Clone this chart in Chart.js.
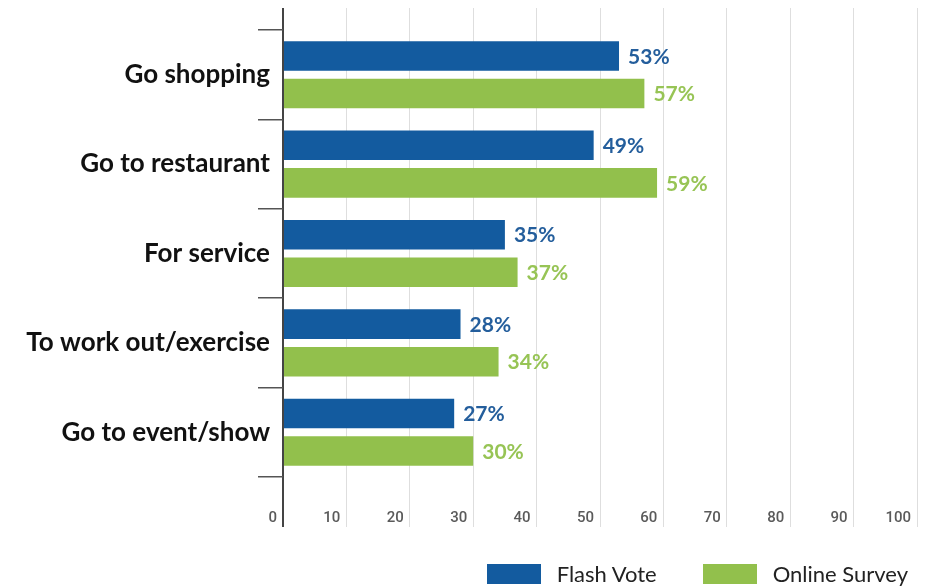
<!DOCTYPE html>
<html>
<head>
<meta charset="utf-8">
<script src="https://cdn.jsdelivr.net/npm/chart.js@4"></script>
<style>
  html, body { margin: 0; padding: 0; background: #fff; }
  .wrap { position: relative; width: 927px; height: 588px; }
  #legend { position: absolute; right: 19px; bottom: 1px; display: flex; align-items: center;
            font-family: Lato, sans-serif; font-size: 22px; color: #222; }
  #legend .item { display: flex; align-items: center; margin-left: 46px; }
  #legend .box { width: 54px; height: 20px; margin-right: 16px; }
</style>
</head>
<body>
<div class="wrap">
  <canvas id="chart" width="927" height="588"></canvas>
  <div id="legend"></div>
</div>
<script>
const categories = ['Go shopping', 'Go to restaurant', 'For service', 'To work out/exercise', 'Go to event/show'];
const flashVote = [53, 49, 35, 28, 27];
const onlineSurvey = [57, 59, 37, 34, 30];
const seriesNames = ['Flash Vote', 'Online Survey'];
const seriesColors = ['#135b9f', '#92c04c'];
const labelColors = ['#245e9c', '#97c455'];

const axisDark = '#444';
const gridLight = '#dedede';

const gridColor = ctx => (ctx.tick && ctx.tick.value === 0 ? axisDark : gridLight);
const gridWidth = ctx => (ctx.tick && ctx.tick.value === 0 ? 2 : 1);

// percent label to the right of each bar
const valueLabels = {
  id: 'valueLabels',
  afterDatasetsDraw(chart) {
    const ctx = chart.ctx;
    ctx.save();
    ctx.font = 'bold 21px Lato';
    ctx.textBaseline = 'middle';
    ctx.textAlign = 'left';
    chart.data.datasets.forEach((ds, i) => {
      chart.getDatasetMeta(i).data.forEach((bar, j) => {
        ctx.fillStyle = labelColors[i];
        ctx.fillText(ds.data[j] + '%', bar.x + 9, bar.y + 1);
      });
    });
    ctx.restore();
  }
};

const chart = new Chart(document.getElementById('chart'), {
  type: 'bar',
  data: {
    labels: categories,
    datasets: [
      { label: seriesNames[0], data: flashVote, backgroundColor: seriesColors[0] },
      { label: seriesNames[1], data: onlineSurvey, backgroundColor: seriesColors[1] }
    ]
  },
  options: {
    indexAxis: 'y',
    responsive: false,
    animation: false,
    categoryPercentage: 0.84,
    barPercentage: 0.787,
    layout: { padding: { top: 8, right: 10, bottom: 61, left: 0 } },
    plugins: {
      legend: { display: false },
      tooltip: { enabled: false }
    },
    scales: {
      x: {
        position: 'bottom',
        min: 0,
        max: 100,
        border: { display: false },
        grid: { color: gridColor, lineWidth: gridWidth, tickLength: 50 },
        ticks: {
          stepSize: 10,
          align: 'end',
          labelOffset: -6,
          padding: -18,
          color: '#5a5a5a',
          font: { family: 'Roboto', size: 15, weight: '500' }
        },
        afterFit: s => { s.height = 50; }
      },
      xTop: {
        type: 'linear',
        position: 'top',
        min: 0,
        max: 100,
        border: { display: false },
        grid: { color: gridColor, lineWidth: gridWidth, drawOnChartArea: false, tickLength: 22 },
        ticks: { stepSize: 10, display: false },
        afterFit: s => { s.height = 22; }
      },
      y: {
        border: { display: false },
        grid: { offset: true, drawOnChartArea: false, tickLength: 25, color: '#555', lineWidth: 1.5 },
        ticks: {
          padding: -12,
          color: '#111',
          font: { family: 'Lato', size: 26, weight: 'bold' }
        },
        afterFit: s => { s.width = 283; }
      }
    }
  },
  plugins: [valueLabels]
});

// legend built from the chart's datasets
const legendEl = document.getElementById('legend');
chart.data.datasets.forEach(ds => {
  const item = document.createElement('div');
  item.className = 'item';
  const box = document.createElement('span');
  box.className = 'box';
  box.style.background = ds.backgroundColor;
  const text = document.createElement('span');
  text.textContent = ds.label;
  item.appendChild(box);
  item.appendChild(text);
  legendEl.appendChild(item);
});
</script>
</body>
</html>
